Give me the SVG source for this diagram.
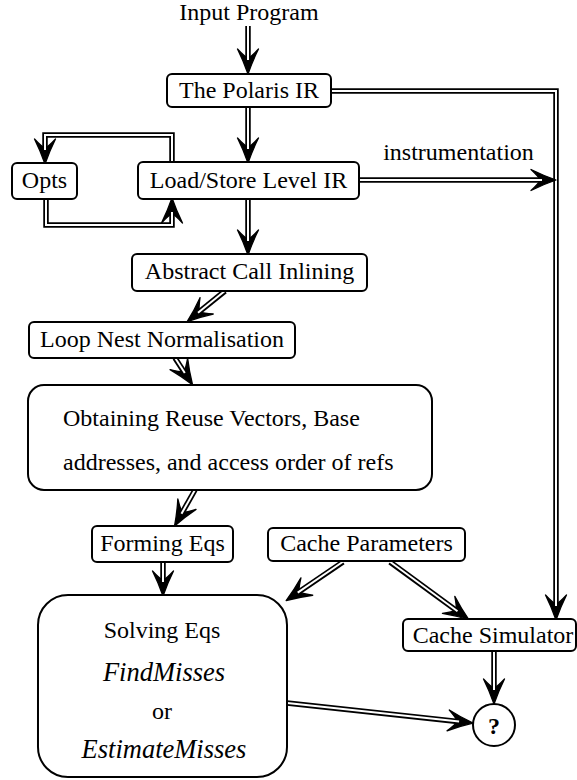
<svg xmlns="http://www.w3.org/2000/svg" width="577" height="780" viewBox="0 0 577 780">
  <style>
    text { font-family: "Liberation Serif", "Times New Roman", serif; font-size: 24px; fill: #000; }
    .c { text-anchor: middle; }
    .it { font-style: italic; font-size: 26.5px; }
    .box { fill: #fff; stroke: #000; stroke-width: 2; }
    .outer { fill: none; stroke: #000; stroke-width: 5.5; stroke-linejoin: miter; }
    .inner { fill: none; stroke: #fff; stroke-width: 2; stroke-linejoin: miter; }
  </style>
  <defs>
    <marker id="head" viewBox="-14 -12 28 24" refX="0" refY="0" markerWidth="28" markerHeight="24" markerUnits="userSpaceOnUse" orient="auto" overflow="visible">
      <path d="M13,0 Q0,4.5 -12,10.5 Q-5,4 -2.5,0 Q-5,-4 -12,-10.5 Q0,-4.5 13,0 Z" fill="#000" stroke="#000" stroke-width="1.3" stroke-linejoin="round"/>
    </marker>
  </defs>

  <g id="connectors">
    <!-- outer black strokes carry the arrowheads -->
    <g class="outer-set">
      <path class="outer" d="M248,26 V61" marker-end="url(#head)"/>
      <path class="outer" d="M248,107 V150" marker-end="url(#head)"/>
      <path class="outer" d="M172,162 V135 H45 V151" marker-end="url(#head)"/>
      <path class="outer" d="M46,199 V225 H172 V211" marker-end="url(#head)"/>
      <path class="outer" d="M248,199 V242" marker-end="url(#head)"/>
      <path class="outer" d="M225,291 L197.3,313.4" marker-end="url(#head)"/>
      <path class="outer" d="M175,358 L185.4,373.9" marker-end="url(#head)"/>
      <path class="outer" d="M195,490 L181,514.6" marker-end="url(#head)"/>
      <path class="outer" d="M163,562 V583" marker-end="url(#head)"/>
      <path class="outer" d="M343,562 L296.9,593.3" marker-end="url(#head)"/>
      <path class="outer" d="M390,562 L458.3,611.9" marker-end="url(#head)"/>
      <path class="outer" d="M331,91 H556 V607" marker-end="url(#head)"/>
      <path class="outer" d="M494,651 V691" marker-end="url(#head)"/>
      <path class="outer" d="M287,703 L460.1,721.7" marker-end="url(#head)"/>
    </g>
    <!-- white cores make the lines double -->
    <g class="inner-set">
      <path class="inner" d="M248,24 V60"/>
      <path class="inner" d="M248,105 V149"/>
      <path class="inner" d="M172,164 V135 H45 V150"/>
      <path class="inner" d="M46,197 V225 H172 V212"/>
      <path class="inner" d="M248,197 V241"/>
      <path class="inner" d="M226,290 L198,312.8"/>
      <path class="inner" d="M174.5,357 L184.8,373"/>
      <path class="inner" d="M195.5,489 L181.5,513.7"/>
      <path class="inner" d="M163,560 V582"/>
      <path class="inner" d="M344,561 L297.7,592.7"/>
      <path class="inner" d="M389,561 L457.5,611.3"/>
      <path class="inner" d="M329,91 H556 V606"/>
      <path class="inner" d="M494,649 V690"/>
      <path class="inner" d="M285,702.8 L459.1,721.6"/>
    </g>
    <!-- instrumentation branch ends on the simulator line -->
    <path class="outer" d="M359,180 H543" marker-end="url(#head)"/>
    <path class="inner" d="M357,180 H542"/>
    <text class="c" x="458.5" y="160">instrumentation</text>
  </g>

  <text id="input-program" class="c" x="249" y="20">Input Program</text>

  <g id="polaris-ir">
    <rect class="box" x="167" y="74" width="164" height="33" rx="5"/>
    <text class="c" x="249" y="98">The Polaris IR</text>
  </g>

  <g id="opts">
    <rect class="box" x="12" y="163" width="65" height="36" rx="5"/>
    <text class="c" x="44.5" y="188">Opts</text>
  </g>

  <g id="load-store-ir">
    <rect class="box" x="138" y="162" width="221" height="37" rx="5"/>
    <text class="c" x="248.5" y="188">Load/Store Level IR</text>
  </g>

  <g id="abstract-call-inlining">
    <rect class="box" x="132" y="254" width="235" height="37" rx="5"/>
    <text class="c" x="249.5" y="279">Abstract Call Inlining</text>
  </g>

  <g id="loop-nest-normalisation">
    <rect class="box" x="29" y="322" width="266" height="36" rx="5"/>
    <text class="c" x="162" y="347">Loop Nest Normalisation</text>
  </g>

  <g id="reuse-vectors">
    <rect class="box" x="28" y="385" width="404" height="105" rx="16"/>
    <text x="63" y="426">Obtaining Reuse Vectors, Base</text>
    <text x="63" y="470">addresses, and access order of refs</text>
  </g>

  <g id="forming-eqs">
    <rect class="box" x="92" y="526" width="141" height="36" rx="5"/>
    <text class="c" x="162.5" y="551">Forming Eqs</text>
  </g>

  <g id="cache-parameters">
    <rect class="box" x="268" y="528" width="197" height="33" rx="5"/>
    <text class="c" x="366.5" y="551">Cache Parameters</text>
  </g>

  <g id="solving-eqs">
    <rect class="box" x="38" y="595" width="249" height="182" rx="30"/>
    <text class="c" x="162" y="638">Solving Eqs</text>
    <text class="c it" x="164" y="681">FindMisses</text>
    <text class="c" x="162" y="719">or</text>
    <text class="c it" x="164" y="758">EstimateMisses</text>
  </g>

  <g id="cache-simulator">
    <rect class="box" x="403" y="619" width="173" height="32" rx="5"/>
    <text class="c" x="493" y="643">Cache Simulator</text>
  </g>

  <g id="result">
    <circle class="box" cx="494" cy="725" r="21"/>
    <text class="c" x="494" y="734" font-size="26" font-weight="bold">?</text>
  </g>
</svg>
